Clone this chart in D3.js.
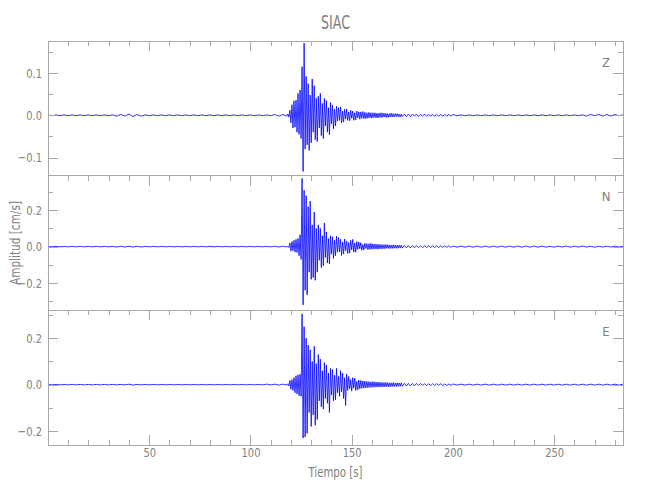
<!DOCTYPE html>
<html><head><meta charset="utf-8">
<script src="https://cdn.jsdelivr.net/npm/d3@7"></script>
<style>
body{margin:0;background:#fff}
svg text{font-family:"DejaVu Sans Condensed","DejaVu Sans",sans-serif;font-stretch:condensed;fill:#808080}
</style></head><body>
<svg id="chart" width="650" height="500"></svg>
<script>
// ---------------- data ----------------
const title = "SIAC";
const components = ["Z", "N", "E"];
const xLabel = "Tiempo [s]";
const yLabel = "Amplitud [cm/s]";
const unit = 0.001; // values below are in 1e-3 cm/s

// sample times of the traced peaks [s]
const time = [
  0,2,4,6,8,10,12,14,16,18,20,22,24,26,28,30,32,34,36,38,
  40,42,44,46,48,50,52,54,56,58,60,62,64,66,68,70,72,74,76,78,
  80,82,84,86,88,90,92,94,96,98,100,102,104,106,108,110,112,114,116,118,
  118.5,119,119.5,120,120.5,121,121.5,122,122.5,123,
  123.5,124,124.5,125,125.5,126,126.5,127,127.5,128,
  128.5,129,129.5,130,130.5,131,131.5,132,132.5,133,
  133.5,134,134.5,135,135.5,136,136.5,137,137.5,138,
  138.5,139,139.5,140,140.5,141,141.5,142,142.5,143,
  143.5,144,144.5,145,145.5,146,146.5,147,147.5,148,
  148.5,149,149.5,150,150.5,151,151.5,152,152.5,153,
  153.5,154,154.5,155,155.5,156,156.5,157,157.5,158,
  158.5,159,159.5,160,160.5,161,161.5,162,162.5,163,
  163.5,164,164.5,165,165.5,166,166.5,167,167.5,168,
  168.5,169,169.5,170,170.5,171,171.5,172,172.5,173,
  173.5,174,174.5,175,
  176,177,178,179,180,181,182,183,184,185,
  186,187,188,189,190,191,192,193,194,195,
  196,197,198,199,200,
  202,204,206,208,210,212,214,216,218,220,
  222,224,226,228,230,232,234,236,238,240,
  242,244,246,248,250,252,254,256,258,260,
  262,264,266,268,270,272,274,276,278,280,
  282,284
];

const zValues = [
  1,-1,1,-1,1,-1,1,-1,1,-1,
  1,-1,1,-1,1,-1,1,-2,2,-2,
  3,-3,2,-2,1,-1,1,-1,1,-1,
  1,-1,1,-1,1,-1,1,-1,1,-1,
  1,-1,1,-1,1,-1,1,-1,1,-1,
  1,-1,1,-1,1,-1,2,-2,2,-2,
  3,-4,12,-18,25,-30,34,-28,36,-40,
  52,-45,60,-55,115,-133,171,-80,92,-70,
  75,-83,48,-65,86,-40,70,-58,40,-62,
  45,-30,52,-48,28,-55,40,-25,35,-40,
  18,-46,30,-20,24,-32,14,-25,22,-14,
  18,-12,20,-18,10,-16,14,-9,15,-12,
  8,-13,12,-7,10,-12,6,-11,10,-6,
  8,-9,8,-7,9,-8,7,-8,6,-7,
  7,-6,6,-7,6,-5,6,-6,5,-6,
  5,-5,6,-5,5,-4,5,-5,4,-5,
  4,-4,5,-4,4,-4,4,-3,4,-4,
  3,-4,3,-3,
  3,-3,3,-3,3,-2,3,-3,2,-2,
  3,-2,2,-2,2,-2,2,-2,2,-2,
  2,-2,2,-2,2,
  -1,1,-1,1,-1,1,-1,1,-1,1,
  -1,1,-1,1,-1,1,-1,1,-1,1,
  -1,1,-1,1,-1,1,-1,1,-1,1,
  -1,1,-2,2,-1,2,-2,2,-2,2,
  -1,1
];

const nValues = [
  1,-1,1,-1,1,-1,1,-1,1,-1,
  1,-1,1,-1,1,-1,1,-2,2,-2,
  2,-2,2,-2,1,-1,1,-1,1,-1,
  1,-1,1,-1,1,-1,1,-1,1,-1,
  1,-1,1,-1,1,-1,1,-1,1,-1,
  1,-1,1,-1,1,-1,2,-2,2,-2,
  3,-5,20,-25,28,-22,35,-30,40,-32,
  45,-50,65,-70,375,-320,310,-240,280,-265,
  220,-140,250,-180,120,-170,190,-185,100,-140,
  120,-75,100,-115,60,-105,130,-60,80,-90,
  45,-95,60,-40,55,-65,35,-50,58,-30,
  50,-28,40,-48,25,-40,42,-22,30,-38,
  22,-36,35,-18,40,-30,20,-30,28,-15,
  25,-12,22,-20,12,-18,18,-10,17,-16,
  16,-15,18,-14,15,-14,14,-13,13,-14,
  13,-12,12,-12,11,-12,12,-10,11,-10,
  10,-10,9,-10,10,-9,9,-9,8,-9,
  8,-8,9,-8,
  7,-7,6,-7,7,-6,6,-6,5,-6,
  6,-5,5,-5,5,-5,4,-5,5,-4,
  4,-4,5,-4,4,
  -3,3,-3,3,-3,3,-3,3,-3,3,
  -3,3,-3,3,-3,3,-3,3,-3,3,
  -3,3,-3,2,-3,3,-2,3,-3,2,
  -2,3,-2,2,-3,2,-2,2,-2,3,
  -2,2
];

const eValues = [
  1,-1,1,-1,1,-1,1,-1,1,-1,
  1,-1,1,-1,1,-1,1,-1,1,-1,
  2,-2,1,-1,1,-1,1,-1,1,-1,
  1,-1,1,-1,1,-1,1,-1,1,-1,
  1,-1,1,-1,1,-1,1,-1,1,-1,
  1,-1,1,-1,2,-1,2,-2,2,-2,
  4,-6,18,-20,22,-25,30,-35,38,-40,
  42,-48,45,-50,305,-230,250,-225,200,-210,
  170,-120,150,-180,100,-130,165,-175,90,-150,
  130,-70,110,-95,60,-105,95,-60,85,-80,
  50,-120,70,-45,65,-70,40,-65,70,-35,
  35,-50,60,-30,50,-60,30,-90,45,-25,
  35,-18,22,-28,30,-15,28,-25,14,-22,
  20,-18,18,-16,16,-15,15,-14,14,-13,
  13,-12,12,-12,13,-11,12,-11,11,-10,
  11,-10,10,-10,9,-10,10,-9,9,-9,
  8,-9,8,-8,9,-8,7,-8,8,-7,
  7,-7,8,-7,
  6,-6,5,-6,5,-5,5,-4,5,-4,
  4,-5,4,-4,4,-4,4,-3,4,-4,
  3,-4,3,-3,3,
  -2,2,-2,2,-2,2,-2,2,-2,2,
  -2,2,-2,2,-2,2,-2,2,-2,2,
  -2,2,-2,2,-2,2,-2,2,-2,2,
  -2,2,-2,2,-2,2,-2,2,-2,2,
  -2,2
];

const yDomains = [[-143, 176], [-350, 390], [-260, 320]]; // 1e-3 cm/s
const yMajorTicks = [[-0.1, 0, 0.1], [-0.2, 0, 0.2], [-0.2, 0, 0.2]];
const yMinorTicks = [
  [-0.1, -0.05, 0, 0.05, 0.1, 0.15],
  [-0.3, -0.2, -0.1, 0, 0.1, 0.2, 0.3],
  [-0.2, -0.1, 0, 0.1, 0.2, 0.3]
];
const xDomain = [0, 284];
const xMajorTicks = [50, 100, 150, 200, 250];
const xMinorTicks = [10,20,30,40,50,60,70,80,90,100,110,120,130,140,150,160,170,180,190,200,210,220,230,240,250,260,270,280];

// ---------------- drawing ----------------
const series = [zValues, nValues, eValues];
const svg = d3.select("#chart");
const L = 48, R = 623, T = 41, B = 445;
const ph = (B - T) / components.length;
const axisColor = "#a8a8a8";
const textColor = "#808080";

const x = d3.scaleLinear().domain(xDomain).range([L, R]);
const fmt = d3.format(".1f");

const nLen = Math.min(time.length, zValues.length, nValues.length, eValues.length);

// compress text horizontally to mimic a narrow stroke font
function narrow(sel, factor) {
  sel.each(function () {
    const w = this.getComputedTextLength();
    if (w > 0) d3.select(this).attr("textLength", w * factor).attr("lengthAdjust", "spacingAndGlyphs");
  });
}

components.forEach((comp, i) => {
  const top = T + i * ph, bot = top + ph;
  const y = d3.scaleLinear().domain(yDomains[i].map(v => v * unit)).range([bot, top]);
  const g = svg.append("g");

  // trace
  const pts = d3.range(nLen).map(k => ({t: time[k], v: series[i][k] * unit}));
  g.append("path").datum(pts)
    .attr("fill", "none").attr("stroke", "#0000ff").attr("stroke-width", 1)
    .attr("stroke-opacity", 0.8)
    .attr("d", d3.line().x(d => x(d.t)).y(d => y(d.v)));

  const style = sel => { sel.attr("color", axisColor).attr("shape-rendering", "crispEdges");
    sel.select(".domain").remove(); sel.selectAll("text").style("fill", textColor).style("font-size", "13px"); };

  // left axis
  g.append("g").attr("transform", `translate(${L},0)`)
    .call(d3.axisLeft(y).tickValues(yMinorTicks[i]).tickSize(-5).tickFormat(""))
    .call(style);
  g.append("g").attr("transform", `translate(${L},0)`)
    .call(d3.axisLeft(y).tickValues(yMajorTicks[i]).tickSize(-10).tickPadding(6).tickFormat(fmt))
    .call(style);
  // right axis
  g.append("g").attr("transform", `translate(${R},0)`)
    .call(d3.axisRight(y).tickValues(yMinorTicks[i]).tickSize(-5).tickFormat(""))
    .call(style);
  g.append("g").attr("transform", `translate(${R},0)`)
    .call(d3.axisRight(y).tickValues(yMajorTicks[i]).tickSize(-10).tickFormat(""))
    .call(style);
  // top axis
  g.append("g").attr("transform", `translate(0,${top})`)
    .call(d3.axisTop(x).tickValues(xMinorTicks).tickSize(-5).tickFormat(""))
    .call(style);
  g.append("g").attr("transform", `translate(0,${top})`)
    .call(d3.axisTop(x).tickValues(xMajorTicks).tickSize(-10).tickFormat(""))
    .call(style);
  if (i === components.length - 1) {
    g.append("g").attr("transform", `translate(0,${bot})`)
      .call(d3.axisBottom(x).tickValues(xMinorTicks).tickSize(-5).tickFormat(""))
      .call(style);
    g.append("g").attr("transform", `translate(0,${bot})`)
      .call(d3.axisBottom(x).tickValues(xMajorTicks).tickSize(-10).tickPadding(3).tickFormat(d3.format("d")))
      .call(style);
  }
  // frame
  g.append("rect").attr("x", L).attr("y", top).attr("width", R - L).attr("height", ph)
    .attr("fill", "none").attr("stroke", axisColor).attr("shape-rendering", "crispEdges");

  // component label
  g.append("text").attr("x", R - 17).attr("y", top + 25.5).attr("text-anchor", "middle")
    .style("font-size", "13px").text(comp);
});
narrow(svg.selectAll(".tick text"), 0.85);

svg.append("text").attr("x", (L + R) / 2).attr("y", 29).attr("text-anchor", "middle")
  .style("font-size", "19px").attr("textLength", 29).attr("lengthAdjust", "spacingAndGlyphs").text(title);
svg.append("text").attr("x", (L + R) / 2).attr("y", 477).attr("text-anchor", "middle")
  .style("font-size", "14px").attr("textLength", 54).attr("lengthAdjust", "spacingAndGlyphs").text(xLabel);
svg.append("text").attr("transform", `translate(20,${T + 1.5 * ph}) rotate(-90)`)
  .attr("text-anchor", "middle").style("font-size", "14px")
  .attr("textLength", 84).attr("lengthAdjust", "spacingAndGlyphs").text(yLabel);
</script>
</body></html>
